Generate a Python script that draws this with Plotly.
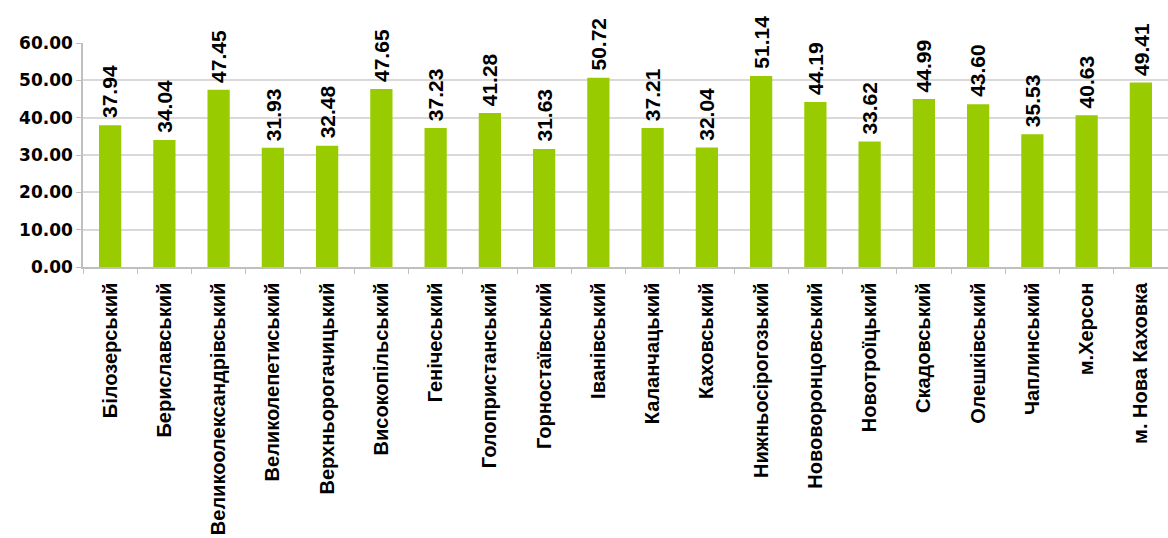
import plotly.graph_objects as go

categories = ["Білозерський", "Бериславський", "Великоолександрівський", "Великолепетиський",
              "Верхньорогачицький", "Високопільський", "Генічеський", "Голопристанський",
              "Горностаївський", "Іванівський", "Каланчацький", "Каховський",
              "Нижньосірогозький", "Нововоронцовський", "Новотроїцький", "Скадовський",
              "Олешківський", "Чаплинський", "м.Херсон", "м. Нова Каховка"]
values = [37.94, 34.04, 47.45, 31.93, 32.48, 47.65, 37.23, 41.28, 31.63, 50.72,
          37.21, 32.04, 51.14, 44.19, 33.62, 44.99, 43.60, 35.53, 40.63, 49.41]
y_ticks = [0, 10, 20, 30, 40, 50, 60]

fig = go.Figure(go.Bar(
    x=categories, y=values,
    marker=dict(color="#99CC00", line=dict(width=0)),
    showlegend=False, hoverinfo="skip",
))

# data labels as annotations positioned in data coordinates
for c, v in zip(categories, values):
    fig.add_annotation(
        x=c, y=v, text=f"<b>{v:.2f}</b>", textangle=-90, showarrow=False,
        yanchor="bottom", xanchor="center", yshift=5,
        font=dict(family="Liberation Sans", size=21, color="#000000"),
    )

fig.update_layout(
    width=1168, height=538,
    margin=dict(l=83, r=0, t=43, b=271, pad=0),
    plot_bgcolor="white", paper_bgcolor="white",
    bargap=0.59, showlegend=False,
    xaxis=dict(
        tickangle=-90, tickson="boundaries", ticks="outside", ticklen=5,
        tickcolor="#BFBFBF", showline=True, linecolor="#BFBFBF", linewidth=1.5,
        tickfont=dict(family="Liberation Sans", size=20, color="#000000", weight="bold"),
        ticklabelstandoff=6, automargin=False,
    ),
    yaxis=dict(
        range=[0, 60], tickvals=y_ticks, tickformat=".2f",
        ticks="outside", ticklen=5, tickcolor="#BFBFBF",
        showline=True, linecolor="#BFBFBF", linewidth=1.5,
        showgrid=True, gridcolor="#D9D9D9", gridwidth=1.5, zeroline=False,
        tickfont=dict(family="DejaVu Sans", size=17, color="#000000", weight="bold"),
        automargin=False,
    ),
)

fig.write_html(
    "out.html",
    config={"displayModeBar": False},
    post_script="document.body.style.margin='0';document.body.style.overflow='hidden';",
)
